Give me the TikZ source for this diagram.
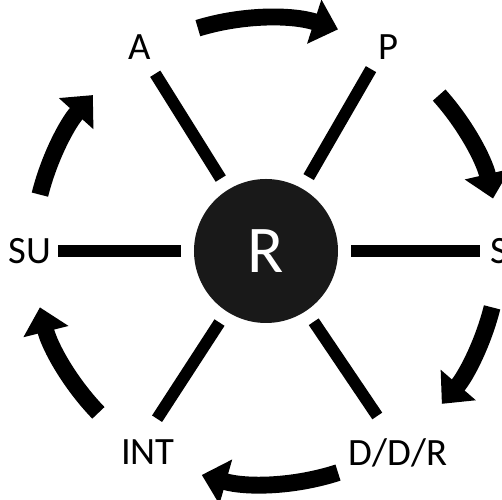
\documentclass[tikz,border=0pt]{standalone}
\usepackage{fontspec}
\setmainfont{Carlito}
\usetikzlibrary{arrows.meta}

\begin{document}
\begin{tikzpicture}[
  lbl/.style={inner sep=0pt, font=\fontsize{22}{26}\selectfont},
  hub/.style={circle, fill=black!90, minimum size=2.88cm, inner sep=0pt, text=white, font=\fontsize{38}{40}\selectfont},
  spoke/.style={line width=6.8pt, shorten <=0.26cm},
  cyc/.style={line width=9.6pt, -{Triangle[length=0.5cm, width=0.9cm]}}]
\path[use as bounding box, clip] (-5.32,-4.98) rectangle (4.72,5.02);

\node[hub] (R) at (0,0) {R};

\node[lbl] (A) at (-2.52,4.08) {A};
\node[lbl] (P) at (2.44,4.08) {P};
\node[lbl] (SU) at (-4.72,0) {SU};
\node[lbl, anchor=west] (S) at (4.48,0) {S};
\node[lbl] (INT) at (-2.36,-4.02) {INT};
\node[lbl] (DDR) at (2.64,-4.04) {D/D/R};

\coordinate (eA) at (122:4.18);
\coordinate (eP) at (60:4.2);
\coordinate (eSU) at (180:4.16);
\coordinate (eS) at (0:4.28);
\coordinate (eINT) at (-123:4.0);
\coordinate (eDDR) at (-56:3.98);

\foreach \e in {eA,eP,eSU,eS,eINT,eDDR}
  \draw[spoke] (R) -- (\e);

% cycle arrows
\foreach \a/\b in {107/72, 42/13, -14/-41, -72/-106, -136/-166, 166/138}
  \draw[cyc] (\a:4.66) arc[start angle=\a, end angle=\b, radius=4.66];
\end{tikzpicture}
\end{document}
